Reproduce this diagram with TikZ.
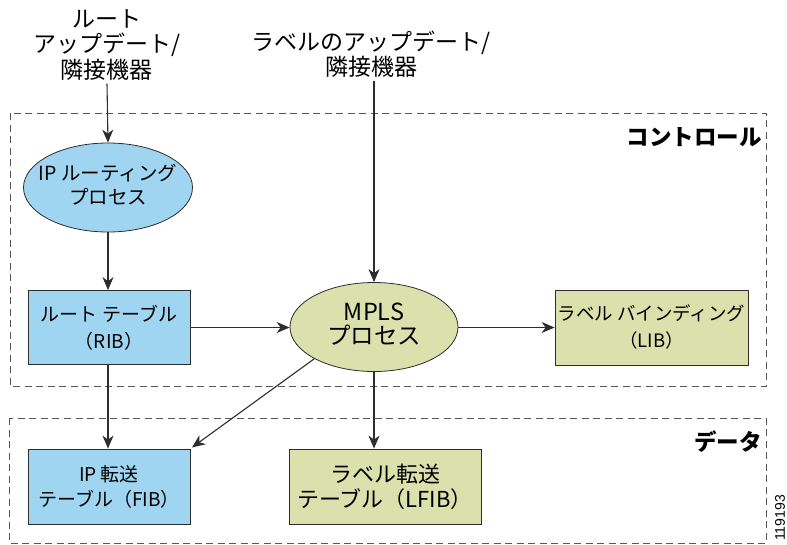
\documentclass[tikz,border=0pt]{standalone}
\usepackage{fontspec}
\setmainfont{Noto Sans CJK JP}
\newfontfamily\numfont{Liberation Sans}
\usetikzlibrary{arrows.meta,shapes.geometric}
\definecolor{boxblue}{RGB}{160,213,241}
\definecolor{boxgreen}{RGB}{218,225,172}
\definecolor{linegray}{RGB}{45,45,45}
\begin{document}
\begin{tikzpicture}[x=1pt,y=-1pt,
  conn/.style={draw=linegray,line width=1.1pt,-{Stealth[length=13pt,width=11pt,inset=4pt]}},
  bluebox/.style={draw=linegray,line width=0.8pt,fill=boxblue,rectangle,align=center,inner sep=0pt},
  greenbox/.style={draw=linegray,line width=0.8pt,fill=boxgreen,rectangle,align=center,inner sep=0pt},
  ell/.style={draw=linegray,line width=0.8pt,ellipse,inner sep=0pt},
  zone/.style={draw=linegray!80,line width=0.8pt,dash pattern=on 7pt off 4.5pt},
  toplabel/.style={align=center,font=\fontsize{23}{25.5}\selectfont,inner sep=3pt},
  zonelabel/.style={font=\fontsize{22.5}{24}\selectfont\bfseries,anchor=east,inner sep=0pt},
  f19/.style={font=\fontsize{19}{27}\selectfont}
]
\useasboundingbox (0,0) rectangle (787,544);

% zones
\draw[zone] (10,113) rectangle (766,386);
\draw[zone] (9,418) rectangle (766,543);
\node[zonelabel] (ctl) at (762,137) {コントロール};
\node[zonelabel] (dat) at (762,442) {データ};

% top labels
\node[toplabel] (rt) at (107,45) {ルート\\アップデート/\\隣接機器};
\node[toplabel] (ul) at (371,54) {ラベルのアップデート/\\隣接機器};

% ellipses
\node[ell,fill=boxblue,minimum width=169pt,minimum height=89pt] (ipr) at (108,187.5)
  {\parbox{0pt}{\centering\makebox[0pt]{\fontsize{19.5}{25}\selectfont\begin{tabular}{@{}c@{}}IP ルーティング\\[-1.5pt]プロセス\end{tabular}}}};
\node[ell,fill=boxgreen,minimum width=168pt,minimum height=89pt] (mpls) at (374,327)
  {\parbox{0pt}{\centering\makebox[0pt]{\fontsize{23.5}{27}\selectfont\begin{tabular}{@{}c@{}}MPLS\\[-3pt]プロセス\end{tabular}}}};

% boxes
\node[bluebox,f19,minimum width=162pt,minimum height=74pt] (rib) at (109,327.5) {ルート テーブル\\（RIB）};
\node[greenbox,font=\fontsize{18.5}{27}\selectfont,minimum width=193pt,minimum height=75pt] (lib) at (651.5,327.5) {ラベル バインディング\\（LIB）};
\node[bluebox,font=\fontsize{19}{25}\selectfont,minimum width=162pt,minimum height=75pt] (fib) at (109,486.5) {IP 転送\\テーブル（FIB）};
\node[greenbox,font=\fontsize{22}{25}\selectfont,minimum width=192pt,minimum height=75pt] (lfib) at (385,486.5) {ラベル転送\\テーブル（LFIB）};

% connectors
\draw[conn] (rt.south) -- (ipr.north);
\draw[conn] (ul.south -| mpls.north) -- (mpls.north);
\draw[conn] (ipr.south) -- (rib.north -| ipr.south);
\draw[conn] (rib.east) -- (mpls.west |- rib.east);
\draw[conn] (mpls.east |- lib.west) -- (lib.west);
\draw[conn] (rib.south -| ipr.south) -- (fib.north -| ipr.south);
\draw[conn] (mpls.south) -- (mpls.south |- lfib.north);
\draw[conn,shorten >=2pt] (mpls.south west) -- (fib.north east);

% figure number
\node[font=\numfont\fontsize{14}{14}\selectfont,rotate=90,inner sep=0pt] (fig) at (780,518) {119193};
\end{tikzpicture}
\end{document}
